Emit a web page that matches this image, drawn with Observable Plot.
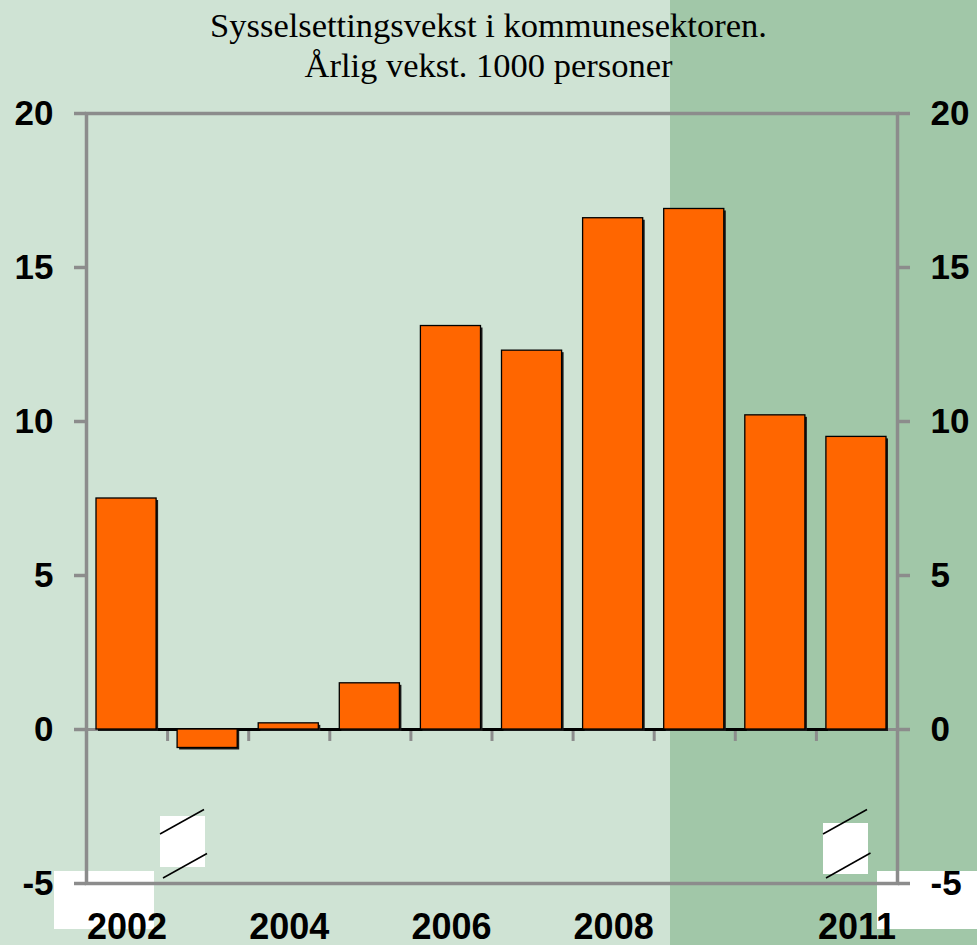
<!DOCTYPE html>
<html>
<head>
<meta charset="utf-8">
<script src="https://cdn.jsdelivr.net/npm/d3@7"></script>
<script src="https://cdn.jsdelivr.net/npm/@observablehq/plot@0.6"></script>
<style>
html, body { margin: 0; padding: 0; }
#chart { position: relative; width: 977px; height: 945px; overflow: hidden;
  background: linear-gradient(to right, #cfe3d4 0px, #cfe3d4 670px, #a1c7a8 670px, #a1c7a8 977px); }
#title { position: absolute; left: 0; top: 5px; width: 977px; text-align: center;
  font-family: "Liberation Serif", "Times New Roman", serif; font-size: 34.5px; line-height: 40px; color: #000; }
#deco { position: absolute; left: 0; top: 0; }
#plot { position: absolute; left: 0; top: 95px; }
</style>
</head>
<body>
<div id="chart">
  <svg id="deco" width="977" height="945">
    <rect x="54" y="871" width="100" height="58" fill="#fff"/>
    <rect x="877" y="871" width="100" height="58" fill="#fff"/>
    <rect x="160" y="816" width="45" height="51" fill="#fff"/>
    <rect x="823" y="823" width="45" height="51" fill="#fff"/>
    <g stroke="#000" stroke-width="1.5">
      <line x1="160" y1="834" x2="204" y2="809.5"/>
      <line x1="163" y1="878" x2="207" y2="853.5"/>
      <line x1="823" y1="834" x2="867" y2="809.5"/>
      <line x1="826" y1="878" x2="870.5" y2="853"/>
    </g>
  </svg>
  <div id="title">Sysselsettingsvekst i kommunesektoren.<br>Årlig vekst. 1000 personer</div>
  <div id="plot"></div>
</div>
<script>
const years = [2002, 2003, 2004, 2005, 2006, 2007, 2008, 2009, 2010, 2011];
const values = [7.5, -0.6, 0.2, 1.5, 13.1, 12.3, 16.6, 16.9, 10.2, 9.5];
const yTicks = [-5, 0, 5, 10, 15, 20];
const xLabelYears = [2002, 2004, 2006, 2008, 2011];

const data = years.map((year, i) => ({year, value: values[i]}));
const gray = "#8c8c8c";

const axisText = {fontSize: 35, fontWeight: "bold", color: "#000", tickFormat: d => String(d)};

const plot = Plot.plot({
  width: 977,
  height: 850,
  marginLeft: 86,
  marginRight: 80,
  marginTop: 18,
  marginBottom: 62,
  style: {background: "transparent", fontFamily: "'Liberation Sans', Arial, sans-serif", overflow: "visible"},
  x: {type: "linear", domain: [years[0], years[years.length - 1] + 1], axis: null},
  y: {domain: [-5, 20], axis: null},
  marks: [
    Plot.ruleY([0], {stroke: gray, strokeWidth: 3}),
    Plot.ruleY([0], {x1: years[0] + 0.5, x2: years[years.length - 1] + 0.5, stroke: "#000", strokeWidth: 3}),
    Plot.rectY(data, {x1: "year", x2: d => d.year + 1, y: "value", insetLeft: 10, insetRight: 11, dx: 2, dy: 2, fill: "#1a1a1a"}),
    Plot.rectY(data, {x1: "year", x2: d => d.year + 1, y: "value", insetLeft: 10, insetRight: 11, fill: "#ff6600", stroke: "#000", strokeWidth: 1.3}),
    Plot.ruleX(years.slice(1), {x: d => d, y1: 0, y2: 0, insetTop: 2, insetBottom: -12, stroke: gray, strokeWidth: 3}),
    Plot.frame({stroke: gray, strokeWidth: 3.5}),
    Plot.axisY({anchor: "left", ticks: yTicks, tickSize: 12, tickPadding: 21, stroke: gray, strokeWidth: 3.5, label: null, ...axisText}),
    Plot.axisY({anchor: "right", ticks: yTicks, tickSize: 12, tickPadding: 21, stroke: gray, strokeWidth: 3.5, label: null, ...axisText}),
    Plot.text(xLabelYears, {x: d => d + 0.5, frameAnchor: "bottom", lineAnchor: "middle", dy: 43.5, text: d => String(d), fontSize: 36, fontWeight: "bold", fill: "#000"})
  ]
});
document.getElementById("plot").appendChild(plot);
</script>
</body>
</html>
